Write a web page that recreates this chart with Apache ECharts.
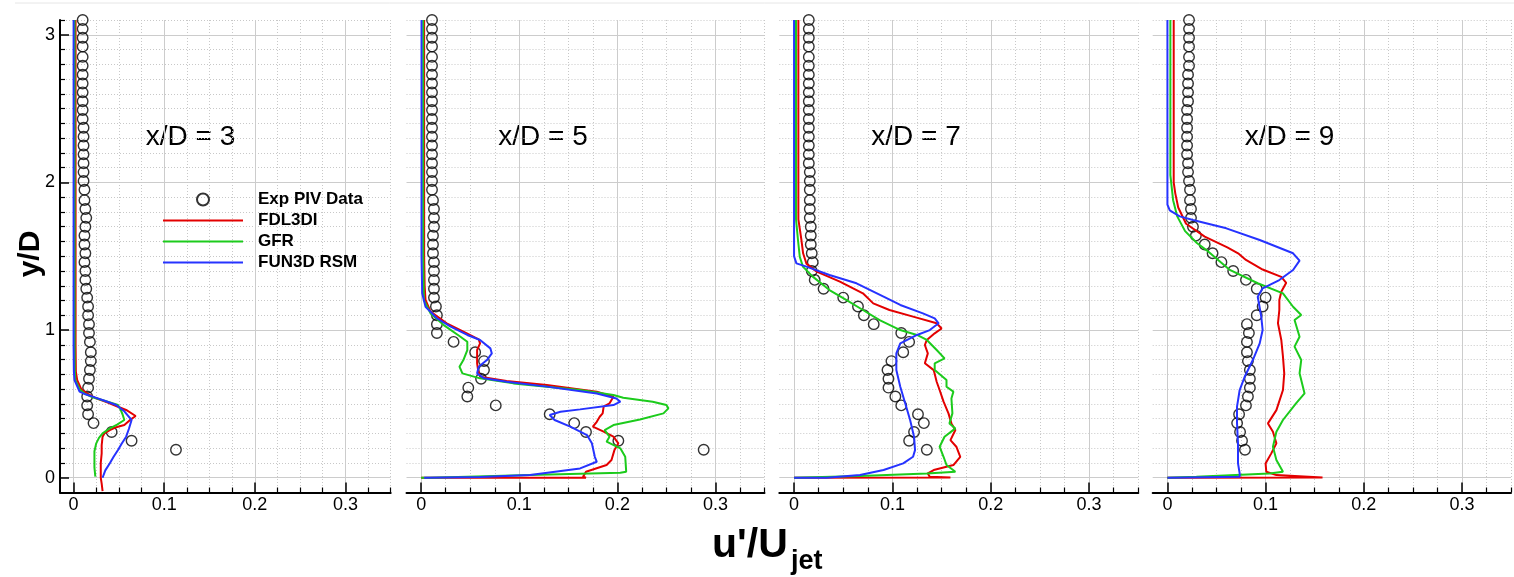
<!DOCTYPE html>
<html>
<head>
<meta charset="utf-8">
<script src="https://cdn.jsdelivr.net/npm/echarts@6/dist/echarts.min.js"></script>
<style>
  html, body { margin: 0; padding: 0; background: #fff; }
  #main { width: 1514px; height: 577px; }
</style>
</head>
<body>
<div id="main"></div>
<script>
// stations and tick labels
var stations = ['x/D = 3', 'x/D = 5', 'x/D = 7', 'x/D = 9'];
var seriesNames = ['Exp PIV Data', 'FDL3DI', 'GFR', 'FUN3D RSM'];
var xTicks = [0, 0.1, 0.2, 0.3];
var xMinorTicks = [0.025, 0.05, 0.075, 0.125, 0.15, 0.175, 0.225, 0.25, 0.275, 0.325, 0.35];
var yTicks = [0, 1, 2, 3];
var yMinorTicks = [0.1, 0.2, 0.3, 0.4, 0.5, 0.6, 0.7, 0.8, 0.9, 1.1, 1.2, 1.3, 1.4, 1.5, 1.6, 1.7, 1.8, 1.9,
                   2.1, 2.2, 2.3, 2.4, 2.5, 2.6, 2.7, 2.8, 2.9, 3.1];

// PIV measurement heights (same for every station)
var expY = [0.19, 0.25, 0.31, 0.37, 0.43, 0.49, 0.55, 0.61, 0.67, 0.73, 0.79, 0.85,
            0.92, 0.98, 1.04, 1.10, 1.16, 1.22, 1.28, 1.34, 1.40, 1.46, 1.52,
            1.58, 1.64, 1.70, 1.76, 1.82, 1.88, 1.95, 2.01, 2.07, 2.13, 2.19,
            2.25, 2.31, 2.37, 2.43, 2.49, 2.55, 2.61, 2.67, 2.73, 2.79, 2.85,
            2.92, 2.98, 3.04, 3.10];

var exp3 = [0.113, 0.064, 0.042, 0.022, 0.016, 0.015, 0.015, 0.016, 0.017, 0.018,
            0.019, 0.019, 0.018, 0.017, 0.017, 0.016, 0.016, 0.015, 0.014, 0.013,
            0.013, 0.012, 0.013, 0.012, 0.012, 0.013, 0.014, 0.013, 0.012, 0.012,
            0.011, 0.011, 0.011, 0.011, 0.011, 0.011, 0.011, 0.010, 0.010, 0.010,
            0.010, 0.010, 0.010, 0.010, 0.010, 0.010, 0.010, 0.010, 0.010];
var exp5 = [0.288, 0.201, 0.168, 0.156, 0.131, 0.076, 0.047, 0.048, 0.061, 0.064,
            0.064, 0.055, 0.033, 0.016, 0.016, 0.016, 0.015, 0.013, 0.013, 0.013,
            0.013, 0.013, 0.012, 0.012, 0.012, 0.013, 0.013, 0.013, 0.012, 0.011,
            0.011, 0.011, 0.011, 0.011, 0.011, 0.011, 0.011, 0.011, 0.011, 0.011,
            0.011, 0.011, 0.011, 0.011, 0.011, 0.011, 0.011, 0.011, 0.011];
var exp7 = [0.135, 0.117, 0.122, 0.132, 0.126, 0.109, 0.103, 0.096, 0.096, 0.095,
            0.099, 0.111, 0.117, 0.109, 0.081, 0.071, 0.065, 0.050, 0.030, 0.021,
            0.018, 0.019, 0.018, 0.017, 0.017, 0.017, 0.016, 0.016, 0.016, 0.016,
            0.016, 0.016, 0.015, 0.015, 0.015, 0.015, 0.015, 0.015, 0.015, 0.015,
            0.015, 0.015, 0.015, 0.015, 0.015, 0.015, 0.015, 0.015, 0.015];
var exp9 = [0.079, 0.076, 0.074, 0.071, 0.073, 0.080, 0.082, 0.084, 0.084, 0.084,
            0.082, 0.081, 0.081, 0.083, 0.081, 0.091, 0.097, 0.100, 0.091, 0.080,
            0.067, 0.055, 0.046, 0.038, 0.029, 0.026, 0.024, 0.024, 0.023, 0.023,
            0.022, 0.021, 0.021, 0.020, 0.020, 0.020, 0.020, 0.020, 0.020, 0.021,
            0.021, 0.021, 0.021, 0.022, 0.022, 0.022, 0.022, 0.022, 0.022];

// simulation profiles, [u'/Ujet, y/D]
var fdl3 = [[0.0022, 3.1], [0.0022, 0.9], [0.0025, 0.72], [0.004, 0.66], [0.0085, 0.60], [0.015, 0.57],
            [0.025, 0.538], [0.037, 0.51], [0.049, 0.481], [0.058, 0.459], [0.0685, 0.418], [0.062, 0.39],
            [0.056, 0.357], [0.046, 0.34], [0.040, 0.323], [0.034, 0.30], [0.032, 0.278], [0.031, 0.22],
            [0.031, 0.165], [0.030, 0.1], [0.030, 0.052], [0.030, 0.0], [0.031, -0.04], [0.032, -0.09]];
var gfr3 = [[0.0011, 3.1], [0.0011, 0.9], [0.0013, 0.72], [0.002, 0.66], [0.0066, 0.60], [0.012, 0.57],
            [0.021, 0.545], [0.035, 0.52], [0.049, 0.493], [0.052, 0.459], [0.054, 0.43], [0.056, 0.391],
            [0.048, 0.36], [0.040, 0.335], [0.032, 0.30], [0.028, 0.27], [0.025, 0.233], [0.023, 0.18],
            [0.023, 0.142], [0.023, 0.07], [0.024, 0.007]];
var fun3 = [[0.0, 3.1], [0.0, 0.9], [0.0003, 0.72], [0.001, 0.662], [0.0066, 0.583], [0.013, 0.565],
            [0.021, 0.549], [0.035, 0.52], [0.047, 0.493], [0.056, 0.45], [0.064, 0.391], [0.061, 0.33],
            [0.058, 0.278], [0.053, 0.23], [0.049, 0.188], [0.044, 0.14], [0.040, 0.098], [0.035, 0.05],
            [0.032, 0.0]];

var fdl5 = [[0.003, 3.1], [0.003, 1.5], [0.0035, 1.3], [0.0044, 1.204], [0.0095, 1.125], [0.026, 1.046],
            [0.043, 0.989], [0.0586, 0.937], [0.060, 0.91], [0.057, 0.865], [0.057, 0.775], [0.058, 0.729],
            [0.060, 0.684], [0.087, 0.655], [0.128, 0.628], [0.179, 0.583], [0.196, 0.549], [0.192, 0.504],
            [0.186, 0.481], [0.185, 0.436], [0.182, 0.413], [0.179, 0.379], [0.175, 0.346], [0.186, 0.312],
            [0.196, 0.278], [0.201, 0.233], [0.197, 0.187], [0.194, 0.12], [0.189, 0.086], [0.168, 0.041],
            [0.165, 0.007], [0.168, 0.0], [0.0, 0.0]];
var gfr5 = [[0.002, 3.1], [0.002, 1.5], [0.0027, 1.204], [0.0095, 1.113], [0.023, 1.034], [0.040, 0.955],
            [0.047, 0.921], [0.047, 0.865], [0.043, 0.797], [0.039, 0.752], [0.042, 0.707], [0.060, 0.673],
            [0.094, 0.639], [0.162, 0.594], [0.196, 0.56], [0.206, 0.542], [0.236, 0.515], [0.250, 0.492],
            [0.252, 0.47], [0.247, 0.436], [0.223, 0.395], [0.196, 0.357], [0.187, 0.323], [0.192, 0.278],
            [0.189, 0.244], [0.203, 0.199], [0.208, 0.142], [0.209, 0.041], [0.203, 0.034], [0.111, 0.018],
            [0.0095, 0.0], [0.0, 0.0]];
var fun5 = [[0.0003, 3.1], [0.0003, 1.5], [0.001, 1.249], [0.0044, 1.158], [0.016, 1.08], [0.030, 1.023],
            [0.047, 0.967], [0.060, 0.933], [0.0705, 0.876], [0.072, 0.842], [0.067, 0.797], [0.0586, 0.752],
            [0.057, 0.707], [0.064, 0.673], [0.087, 0.65], [0.128, 0.617], [0.179, 0.571], [0.199, 0.537],
            [0.203, 0.515], [0.196, 0.492], [0.162, 0.463], [0.142, 0.447], [0.131, 0.425], [0.136, 0.391],
            [0.152, 0.346], [0.169, 0.289], [0.174, 0.233], [0.177, 0.142], [0.179, 0.108], [0.162, 0.063],
            [0.111, 0.018], [0.060, 0.0045], [0.003, 0.0]];

var fdl7 = [[0.0044, 3.1], [0.0044, 1.75], [0.0075, 1.61], [0.0092, 1.52], [0.0126, 1.45], [0.023, 1.396],
            [0.0466, 1.328], [0.070, 1.249], [0.0805, 1.181], [0.097, 1.136], [0.121, 1.091], [0.145, 1.046],
            [0.150, 1.011], [0.143, 0.978], [0.135, 0.933], [0.133, 0.899], [0.136, 0.842], [0.133, 0.775],
            [0.142, 0.729], [0.145, 0.65], [0.148, 0.594], [0.152, 0.515], [0.157, 0.436], [0.160, 0.368],
            [0.164, 0.323], [0.159, 0.255], [0.165, 0.21], [0.169, 0.142], [0.162, 0.086], [0.142, 0.052],
            [0.136, 0.029], [0.138, 0.007], [0.159, 0.002], [0.0, 0.0]];
var gfr7 = [[0.002, 3.1], [0.002, 1.75], [0.004, 1.61], [0.0058, 1.497], [0.009, 1.43], [0.019, 1.362],
            [0.036, 1.271], [0.053, 1.204], [0.070, 1.136], [0.087, 1.068], [0.108, 1.0], [0.125, 0.967],
            [0.135, 0.933], [0.145, 0.865], [0.153, 0.808], [0.143, 0.775], [0.143, 0.729], [0.155, 0.662],
            [0.155, 0.616], [0.162, 0.583], [0.160, 0.537], [0.161, 0.436], [0.158, 0.368], [0.164, 0.334],
            [0.153, 0.278], [0.148, 0.21], [0.152, 0.142], [0.155, 0.086], [0.164, 0.041], [0.135, 0.029],
            [0.067, 0.011], [0.0, 0.0]];
var fun7 = [[0.0, 3.1], [0.0, 1.5], [0.0024, 1.452], [0.0126, 1.43], [0.036, 1.373], [0.0635, 1.317],
            [0.091, 1.226], [0.108, 1.17], [0.131, 1.113], [0.143, 1.079], [0.147, 1.046], [0.138, 1.0],
            [0.125, 0.967], [0.108, 0.91], [0.104, 0.842], [0.104, 0.729], [0.108, 0.616], [0.113, 0.504],
            [0.118, 0.391], [0.122, 0.278], [0.123, 0.187], [0.121, 0.142], [0.111, 0.097], [0.091, 0.052],
            [0.067, 0.018], [0.033, 0.0], [0.0, 0.0]];

var fdl9 = [[0.0064, 3.1], [0.0064, 2.0], [0.008, 1.926], [0.011, 1.83], [0.019, 1.72], [0.038, 1.633],
            [0.061, 1.56], [0.072, 1.52], [0.080, 1.475], [0.097, 1.41], [0.116, 1.36], [0.121, 1.32],
            [0.116, 1.26], [0.114, 1.204], [0.114, 1.136], [0.1126, 1.046], [0.116, 0.933], [0.1177, 0.82],
            [0.119, 0.707], [0.1177, 0.594], [0.111, 0.458], [0.1024, 0.368], [0.1075, 0.312], [0.111, 0.233],
            [0.1058, 0.165], [0.100, 0.097], [0.1007, 0.041], [0.111, 0.018], [0.158, 0.002], [0.0, 0.0]];
var gfr9 = [[0.003, 3.1], [0.003, 2.05], [0.0058, 1.88], [0.010, 1.77], [0.018, 1.67], [0.030, 1.59],
            [0.040, 1.54], [0.063, 1.41], [0.092, 1.317], [0.1177, 1.249], [0.128, 1.158], [0.1363, 1.102],
            [0.1295, 1.068], [0.1346, 0.955], [0.1295, 0.888], [0.1363, 0.797], [0.1346, 0.707], [0.1397, 0.571],
            [0.131, 0.504], [0.1177, 0.391], [0.111, 0.312], [0.1075, 0.21], [0.111, 0.12], [0.1177, 0.041],
            [0.104, 0.029], [0.0295, 0.007], [0.0, 0.0]];
var fun9 = [[0.0, 3.1], [0.0, 1.85], [0.0024, 1.81], [0.0125, 1.77], [0.026, 1.746], [0.060, 1.689],
            [0.094, 1.61], [0.128, 1.52], [0.1346, 1.47], [0.128, 1.407], [0.114, 1.339], [0.097, 1.283],
            [0.092, 1.226], [0.0956, 1.09], [0.097, 1.0], [0.094, 0.91], [0.087, 0.797], [0.0787, 0.684],
            [0.0736, 0.594], [0.0709, 0.481], [0.0709, 0.368], [0.0719, 0.233], [0.0719, 0.097], [0.0736, 0.029],
            [0.0736, 0.007], [0.0, 0.0]];

var panels = [
    {exp: exp3, fdl: fdl3, gfr: gfr3, fun: fun3},
    {exp: exp5, fdl: fdl5, gfr: gfr5, fun: fun5},
    {exp: exp7, fdl: fdl7, gfr: gfr7, fun: fun7},
    {exp: exp9, fdl: fdl9, gfr: gfr9, fun: fun9}
];

// layout
var font = 'Liberation Sans, Arial, Helvetica, sans-serif';
var boxes = [[60, 330.7], [406.5, 358], [779.3, 359], [1152.7, 358.3]];
var titlePos = [190.5, 543, 916, 1289.5];
var colors = {fdl: '#e30000', gfr: '#1ccb1c', fun: '#2633ff'};
var xMin = -0.015, xMax = 0.35, yMin = -0.1, yMax = 3.1;

var myChart = echarts.init(document.getElementById('main'));
var grid = [], xAxis = [], yAxis = [], series = [], graphic = [];

var fmt = function (v) { return String(+(+v).toFixed(2)); };

panels.forEach(function (p, i) {
    var first = i === 0;
    grid.push({left: boxes[i][0], width: boxes[i][1], top: 20, height: 472.5});

    // minor x axis (dotted grid + short ticks)
    xAxis.push({
        type: 'value', gridIndex: i, position: 'bottom', min: xMin, max: xMax,
        axisLine: {show: false, onZero: false},
        axisTick: {show: true, inside: true, length: 5, customValues: xMinorTicks,
                   lineStyle: {color: '#000', width: 1.2}},
        axisLabel: {show: false},
        splitLine: {show: true, lineStyle: {color: '#c8c8c8', width: 1, type: [1, 2]}}
    });
    // major x axis
    xAxis.push({
        type: 'value', gridIndex: i, position: 'bottom', min: xMin, max: xMax,
        axisLine: {show: true, onZero: false, lineStyle: {color: '#000', width: 2}},
        axisTick: {show: true, inside: true, length: 10, customValues: xTicks,
                   lineStyle: {color: '#000', width: 1.5}},
        axisLabel: {show: true, customValues: xTicks, formatter: fmt, margin: 4,
                    fontSize: 18, color: '#000', fontFamily: font},
        splitLine: {show: true, lineStyle: {color: '#cccccc', width: 1}}
    });
    // minor y axis
    yAxis.push({
        type: 'value', gridIndex: i, position: 'left', min: yMin, max: yMax,
        axisLine: {show: false, onZero: false},
        axisTick: {show: first, inside: true, length: 5, customValues: yMinorTicks,
                   lineStyle: {color: '#000', width: 1.2}},
        axisLabel: {show: false},
        splitLine: {show: true, lineStyle: {color: '#c8c8c8', width: 1, type: [1, 2]}}
    });
    // major y axis
    yAxis.push({
        type: 'value', gridIndex: i, position: 'left', min: yMin, max: yMax,
        axisLine: {show: first, onZero: false, lineStyle: {color: '#000', width: 2}},
        axisTick: {show: first, inside: true, length: 9, customValues: yTicks,
                   lineStyle: {color: '#000', width: 1.5}},
        axisLabel: {show: first, customValues: yTicks, formatter: fmt, margin: 5,
                    fontSize: 18, color: '#000', fontFamily: font},
        splitLine: {show: true, lineStyle: {color: '#cccccc', width: 1}}
    });

    var ax = 2 * i + 1;
    series.push({
        name: seriesNames[0], type: 'scatter', xAxisIndex: ax, yAxisIndex: ax,
        symbol: 'circle', symbolSize: 10.5,
        itemStyle: {color: 'rgba(255,255,255,0)', borderColor: '#000', borderWidth: 1.4},
        data: p.exp.map(function (v, k) { return [v, expY[k]]; })
    });
    [['fdl', 1], ['gfr', 2], ['fun', 3]].forEach(function (s) {
        series.push({
            name: seriesNames[s[1]], type: 'line', xAxisIndex: ax, yAxisIndex: ax,
            symbol: 'none', smooth: false,
            lineStyle: {color: colors[s[0]], width: 2},
            itemStyle: {color: colors[s[0]]},
            data: p[s[0]]
        });
    });

    graphic.push({
        type: 'text', x: titlePos[i], y: 137,
        style: {text: stations[i], font: '28px ' + font, fill: '#000',
                textAlign: 'center', textVerticalAlign: 'middle'}
    });
});

graphic.push({
    type: 'line', shape: {x1: 15, y1: 3, x2: 1514, y2: 3},
    style: {stroke: '#e6e6e6', lineWidth: 1}
});
graphic.push({
    type: 'text', x: 31, y: 254, rotation: Math.PI / 2,
    style: {text: 'y/D', font: 'bold 30px ' + font, fill: '#000',
            textAlign: 'center', textVerticalAlign: 'middle'}
});
graphic.push({
    type: 'text', x: 712, y: 546,
    style: {text: "u'/U", font: 'bold 41px ' + font, fill: '#000',
            textAlign: 'left', textVerticalAlign: 'middle'}
});
graphic.push({
    type: 'text', x: 791, y: 562,
    style: {text: 'jet', font: 'bold 27px ' + font, fill: '#000',
            textAlign: 'left', textVerticalAlign: 'middle'}
});

var hidden = {color: 'rgba(0,0,0,0)', borderColor: 'rgba(0,0,0,0)', borderWidth: 0};
var option = {
    animation: false,
    backgroundColor: '#fff',
    grid: grid,
    xAxis: xAxis,
    yAxis: yAxis,
    legend: {
        left: 162, top: 189, orient: 'vertical', padding: 0,
        itemWidth: 80, itemHeight: 12, itemGap: 0, selectedMode: false,
        textStyle: {fontFamily: font, fontWeight: 'bold', fontSize: 17, color: '#000',
                    lineHeight: 21, padding: [0, 0, 0, 10]},
        data: [
            {name: seriesNames[0]},
            {name: seriesNames[1], itemStyle: hidden},
            {name: seriesNames[2], itemStyle: hidden},
            {name: seriesNames[3], itemStyle: hidden}
        ]
    },
    series: series,
    graphic: graphic
};
option && myChart.setOption(option);
</script>
</body>
</html>
